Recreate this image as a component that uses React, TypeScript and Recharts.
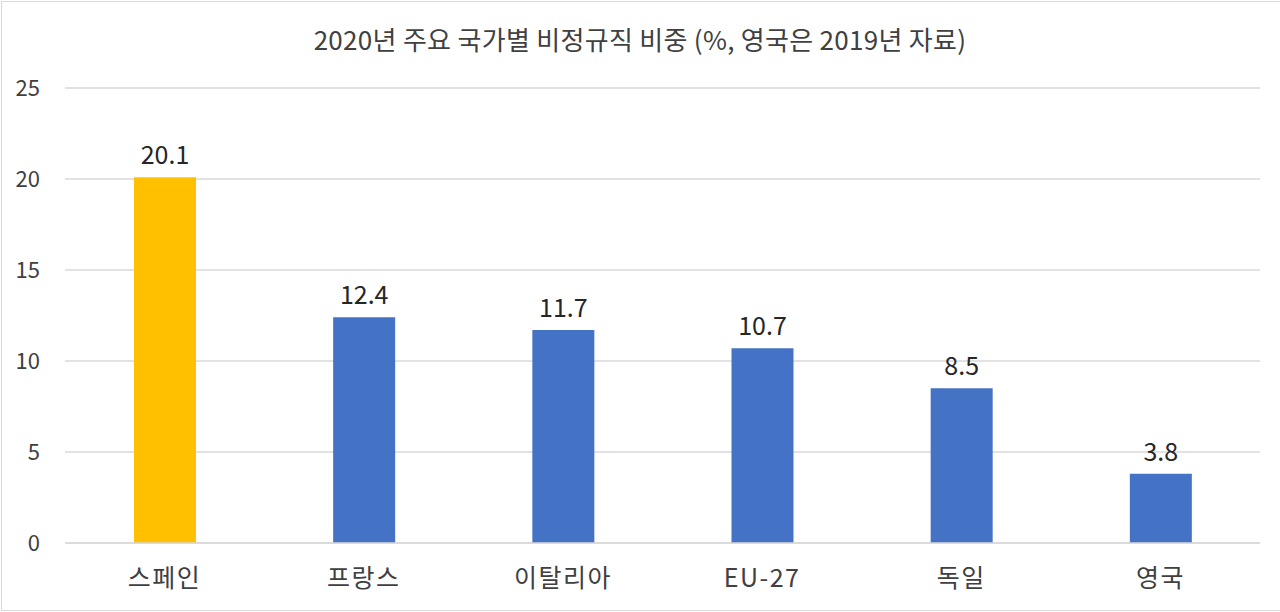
import { Bar, BarChart, CartesianGrid, Cell, LabelList, XAxis, YAxis } from 'recharts'

const TITLE = '2020년 주요 국가별 비정규직 비중 (%, 영국은 2019년 자료)'
const COUNTRIES = ['스페인', '프랑스', '이탈리아', 'EU-27', '독일', '영국']
const SHARES = [20.1, 12.4, 11.7, 10.7, 8.5, 3.8]
const Y_TICKS = [0, 5, 10, 15, 20, 25]

const FONT = '"Malgun Gothic", "Noto Sans CJK KR", "Noto Sans", sans-serif'
const BLUE = '#4472c4'
const GOLD = '#ffc000'

const data = COUNTRIES.map((name, i) => ({ name, value: SHARES[i] }))

export default function App() {
  return (
    <div
      style={{
        position: 'absolute',
        left: 0,
        top: 0,
        width: 1280,
        height: 612,
        background: '#fff',
        fontFamily: FONT,
        overflow: 'hidden',
      }}
    >
      <div
        style={{
          position: 'absolute',
          left: 1,
          top: 1,
          width: 1290,
          height: 610,
          border: '1px solid #d9d9d9',
          boxSizing: 'border-box',
        }}
      />
      <div
        style={{
          position: 'absolute',
          left: 0,
          width: 1280,
          top: 21,
          textAlign: 'center',
          fontSize: 26,
          letterSpacing: 0.3,
          color: '#404040',
          lineHeight: '36px',
        }}
      >
        {TITLE}
      </div>
      <BarChart
        width={1280}
        height={612}
        data={data}
        margin={{ top: 88, right: 20, bottom: 0, left: 0 }}
        style={{ position: 'absolute', left: 0, top: 0 }}
      >
        <CartesianGrid vertical={false} stroke="#d9d9d9" strokeWidth={1.3} />
        <XAxis
          dataKey="name"
          height={69}
          tickLine={false}
          tickSize={0}
          tickMargin={26}
          axisLine={{ stroke: '#d9d9d9', strokeWidth: 1.3 }}
          tick={{ fill: '#404040', fontSize: 25, letterSpacing: 1.5, fontFamily: FONT }}
          interval={0}
        />
        <YAxis
          width={65}
          domain={[0, 25]}
          ticks={Y_TICKS}
          axisLine={false}
          tickLine={false}
          tickSize={0}
          tickMargin={25}
          tick={{ fill: '#404040', fontSize: 22, fontFamily: FONT }}
        />
        <Bar dataKey="value" barSize={62} isAnimationActive={false}>
          {data.map((d, i) => (
            <Cell key={d.name} fill={i === 0 ? GOLD : BLUE} />
          ))}
          <LabelList
            dataKey="value"
            position="top"
            offset={13}
            style={{ fill: '#262626', fontSize: 25, fontFamily: FONT }}
          />
        </Bar>
      </BarChart>
    </div>
  )
}
